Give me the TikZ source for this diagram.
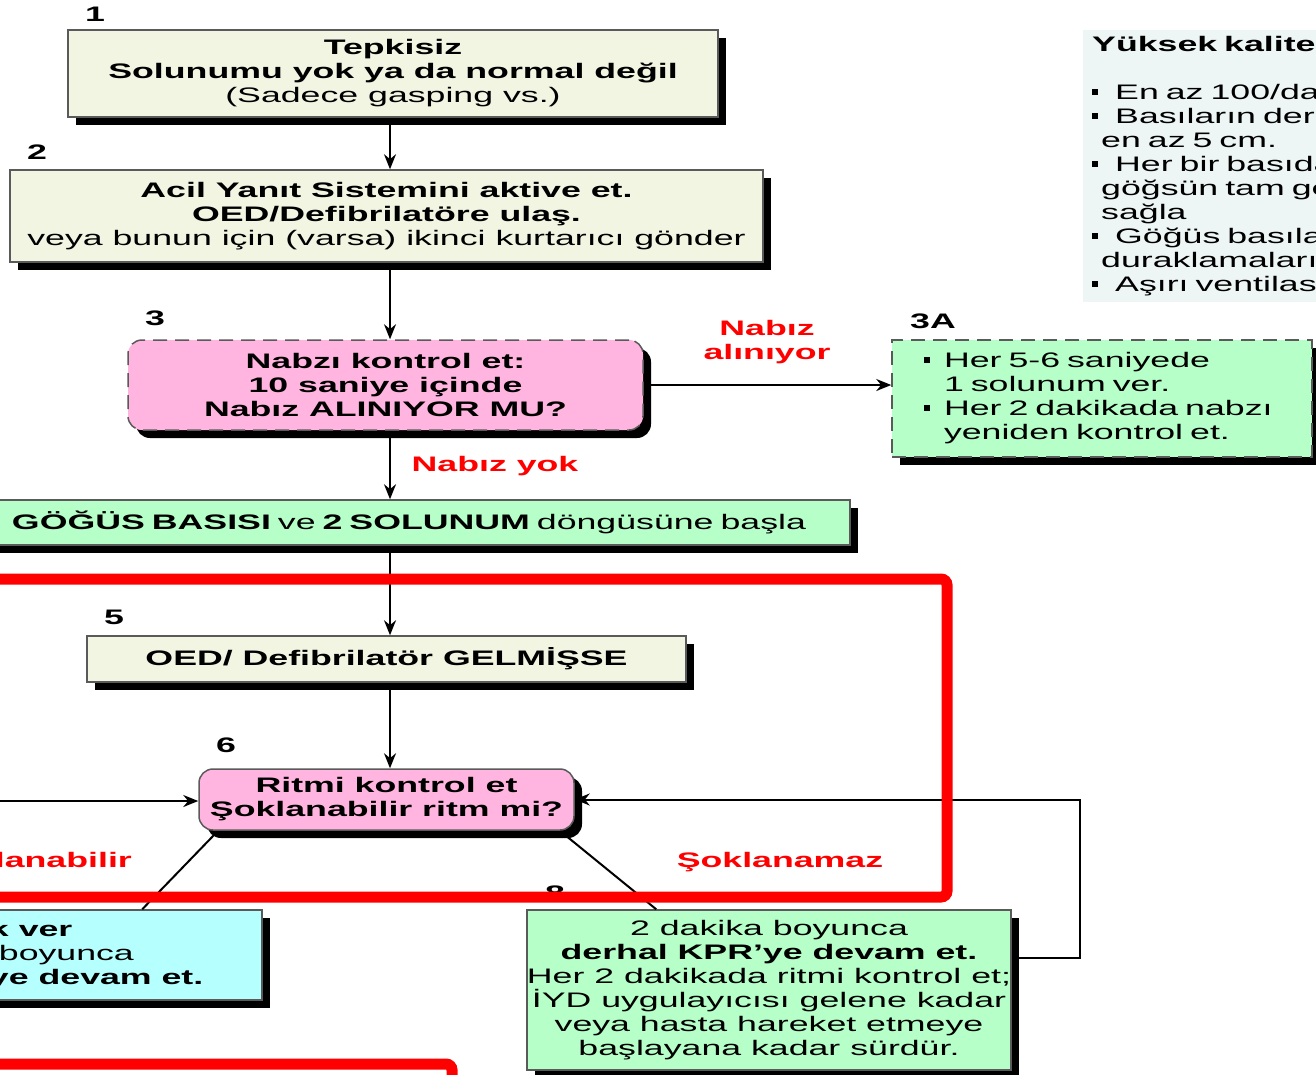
\documentclass[tikz,border=0pt]{standalone}
\usepackage{fontspec}
\setmainfont{Liberation Sans}[FakeStretch=1.7]
\usetikzlibrary{arrows.meta}
\definecolor{beige}{HTML}{F1F5E2}
\definecolor{pinkf}{HTML}{FFB5DF}
\definecolor{greenf}{HTML}{B6FFC8}
\definecolor{cyanf}{HTML}{B5FFFF}
\definecolor{panelf}{HTML}{EEF5F5}
\definecolor{edge}{HTML}{5A5A5A}
\newcommand\blt[1]{\rule[0.22em]{6pt}{6pt}\hspace*{#1}}
\begin{document}
\begin{tikzpicture}[x=1pt,y=-1pt,
  every node/.style={font=\fontsize{21}{24}\selectfont},
  box/.style={draw=edge, line width=1.5pt, inner sep=0pt, align=center,
    preaction={fill=black, transform canvas={xshift=8pt,yshift=-8pt}}},
  rbox/.style={box, rounded corners=14pt},
  dbox/.style={dash pattern=on 14pt off 8pt},
  num/.style={font=\fontsize{21}{24}\selectfont\bfseries, inner sep=0pt},
  lab/.style={font=\fontsize{21}{24}\selectfont\bfseries, text=red, inner sep=0pt, align=center},
  conn/.style={line width=2pt, -{Stealth[length=15pt,width=12pt]}},
  plain/.style={line width=2pt}]
\path[use as bounding box] (0,0) rectangle (1316,1074);
\clip (0,0) rectangle (1316,1074);
\fill[white] (0,0) rectangle (1316,1074);

% right panel
\node[fill=panelf, anchor=north west, inner xsep=9pt, inner ysep=6pt, text width=700pt, align=left] (panel) at (1083,30)
 {\textbf{Yüksek kaliteli KPR}\\[24pt]
  \blt{17pt}En az 100/dakika hız\\
  \blt{17pt}Basıların derinliği\\
  \hspace*{9pt}en az 5 cm.\\
  \blt{17pt}Her bir basıdan sonra\\
  \hspace*{9pt}göğsün tam geri gelmesini\\
  \hspace*{9pt}sağla\\
  \blt{17pt}Göğüs basılarındaki\\
  \hspace*{9pt}duraklamaları en aza indir\\
  \blt{17pt}Aşırı ventilasyondan kaçın};

\coordinate (ax) at (390,0);

\node[box, fill=beige, minimum width=650pt, minimum height=87pt] (b1) at (393,73.5)
 {\textbf{Tepkisiz}\\\textbf{Solunumu yok ya da normal değil}\\(Sadece gasping vs.)};
\node[num] (n1) at (95,14) {1};

\node[box, fill=beige, minimum width=753pt, minimum height=92pt] (b2) at (386.5,216)
 {\textbf{Acil Yanıt Sistemini aktive et.}\\\textbf{OED/Defibrilatöre ulaş.}\\veya bunun için (varsa) ikinci kurtarıcı gönder};
\node[num] (n2) at (37,152) {2};

\node[rbox, dbox, fill=pinkf, minimum width=515pt, minimum height=90pt] (b3) at (385.5,385)
 {\textbf{Nabzı kontrol et:}\\\textbf{10 saniye içinde}\\\textbf{Nabız ALINIYOR MU?}};
\node[num] (n3) at (155,318) {3};

\node[box, dbox, fill=greenf, minimum height=117pt, inner xsep=32pt, text width=356pt, align=left] (b3a) at (1102,398.5)
 {\blt{14pt}Her 5-6 saniyede\\\hspace*{20pt}1 solunum ver.\\\blt{14pt}Her 2 dakikada nabzı\\\hspace*{20pt}yeniden kontrol et.};
\node[num] (n3a) at (933,321) {3A};

\node[box, fill=greenf, minimum height=45pt, inner xsep=22pt, text width=816pt, align=left] (b4) at (420,522.5)
 {\textbf{GÖĞÜS BASISI} ve \textbf{2 SOLUNUM} döngüsüne başla};

\node[box, fill=beige, minimum width=599pt, minimum height=46pt] (b5) at (386.5,659)
 {\textbf{OED/ Defibrilatör GELMİŞSE}};
\node[num] (n5) at (114,617) {5};

\node[rbox, fill=pinkf, minimum width=375pt, minimum height=61pt] (b6) at (386.5,799.5)
 {\textbf{Ritmi kontrol et}\\\textbf{Şoklanabilir ritm mi?}};
\node[num] (n6) at (226,745) {6};

\node[box, fill=cyanf, minimum width=534pt, minimum height=90pt] (b7) at (-5,955)
 {\textbf{1 şok ver}\\2 dakika boyunca\\\textbf{derhal KPR’ye devam et.}};

\node[box, fill=greenf, minimum width=482pt, minimum height=160pt] (b8) at (769,990)
 {2 dakika boyunca\\\textbf{derhal KPR’ye devam et.}\\Her 2 dakikada ritmi kontrol et;\\İYD uygulayıcısı gelene kadar\\veya hasta hareket etmeye\\başlayana kadar sürdür.};
\node[num] (n8) at (555,893) {8};

% labels
\node[lab] (l1) at (767,342) {Nabız\\alınıyor};
\node[lab] (l2) at (495,466) {Nabız yok};
\node[lab, anchor=east] (l3) at (132,862) {Şoklanabilir};
\node[lab] (l4) at (780,862) {Şoklanamaz};

% connectors
\draw[conn] (b1.south -| ax) -- (b2.north -| ax);
\draw[conn] (b2.south -| ax) -- (b3.north -| ax);
\draw[conn] (b3.east) -- (b3a.west |- b3.east);
\draw[conn] (b3.south -| ax) -- (b4.north -| ax);
\draw[conn] (b4.south -| ax) -- (b5.north -| ax);
\draw[conn] (b5.south -| ax) -- (b6.north -| ax);
\coordinate (lin) at (-20,801);
\draw[conn] (lin) -- (lin -| b6.west);
\draw[conn] ([yshift=32pt]b8.east) -- ++(68,0) |- (b6.east);
\draw[plain] ([xshift=16pt,yshift=-4pt]b6.south west) -- ([xshift=415pt]b7.north west);
\draw[plain] ([xshift=-10pt,yshift=-4pt]b6.south east) -- ([xshift=130pt]b8.north west);

% red highlight frames
\draw[red, line width=11pt, rounded corners=6pt] (-30,579) -- (947,579) -- (947,897) -- (-30,897);
\draw[red, line width=11pt, rounded corners=6pt] (-30,1064) -- (452,1064) -- (452,1100);
\end{tikzpicture}
\end{document}
